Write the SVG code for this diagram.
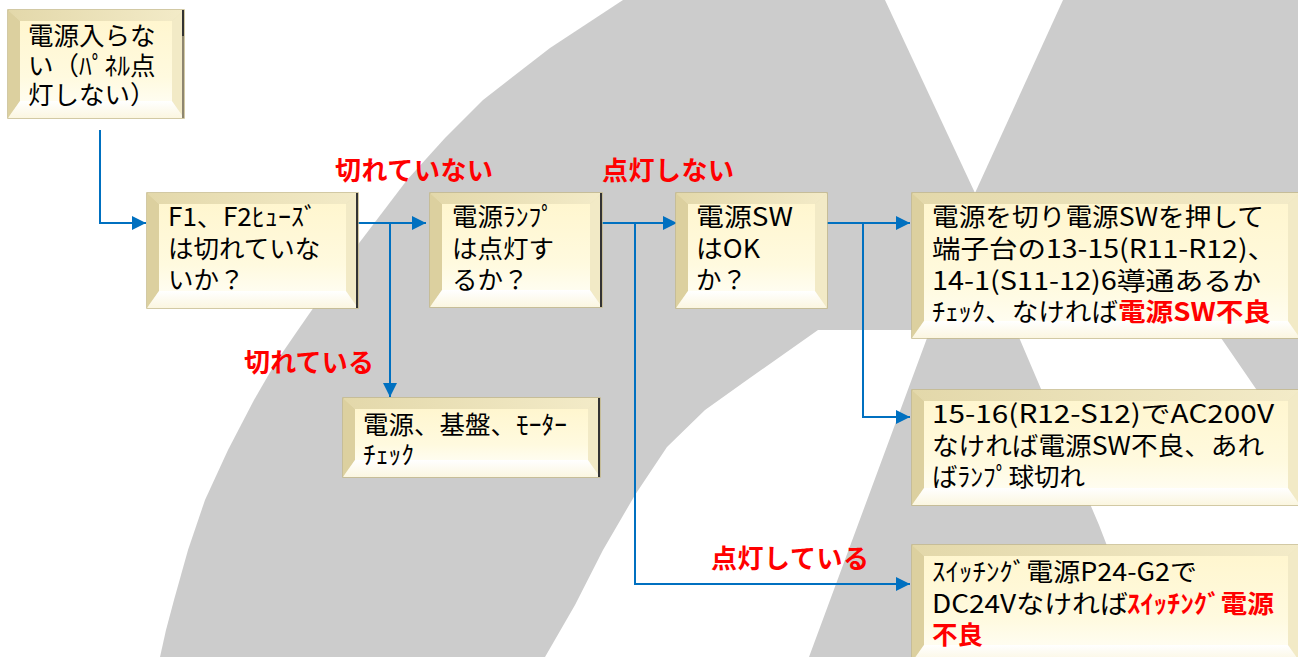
<svg xmlns="http://www.w3.org/2000/svg" width="1298" height="657" viewBox="0 0 1298 657">
<defs>
<linearGradient id="gFace" x1="0" y1="0" x2="0" y2="1">
<stop offset="0" stop-color="#FFF6CF"/><stop offset="0.7" stop-color="#FFFADF"/><stop offset="1" stop-color="#FFFDF0"/>
</linearGradient>
<linearGradient id="gTop" x1="0" y1="0" x2="1" y2="0">
<stop offset="0" stop-color="#E3D8AA"/><stop offset="1" stop-color="#F3EBC8"/>
</linearGradient>
<linearGradient id="gBot" x1="0" y1="0" x2="0" y2="1">
<stop offset="0" stop-color="#FFFFFF"/><stop offset="1" stop-color="#FBF6E0"/>
</linearGradient>
<marker id="arr" viewBox="0 0 14 14" refX="14" refY="7" markerWidth="14" markerHeight="14" markerUnits="userSpaceOnUse" orient="auto">
<path d="M0,0 L14,7 L0,14 z" fill="#0070C0"/>
</marker>
<style>
.ob{fill:#EDE4BE;stroke:#C4B887;stroke-width:1.5}
.bt{fill:url(#gTop)}
.bl{fill:#DCD09F}
.br{fill:#F2EAC6}
.bb{fill:url(#gBot)}
.fc{fill:url(#gFace)}
.sh{stroke:#333333;stroke-width:2}
.t{font-family:"Noto Sans CJK JP","Noto Sans CJK SC",sans-serif;font-size:25.5px;fill:#000}
.r{fill:#FF0000;font-weight:bold}
.lbl{font-family:"Noto Sans CJK JP","Noto Sans CJK SC",sans-serif;font-size:26px;fill:#FF0000;font-weight:bold}
.c{fill:none;stroke:#0070C0;stroke-width:2;marker-end:url(#arr)}
</style>
</defs>
<rect width="1298" height="657" fill="#FFFFFF"/>
<g id="background">
<polygon fill="#CCCCCC" points="160,657 166,630 174,600 188,550 205,500 228,450 254,400 276,362 298,330 350,255 407,180 445,138 483,100 550,48 623,0 1298,0 1298,657"/>
<polygon fill="#FFFFFF" points="885,0 975,193 1063,0"/>
<polygon fill="#FFFFFF" points="545,657 575,605 603,550 635,495 667,447 705,410 747,380 818,330 930,330 809,657"/>
<polygon fill="#FFFFFF" points="1018,335 1219,335 1298,450 1298,657 1150,657 1099,525"/>
</g>
<g id="connectors">
<path class="c" d="M100,130 V223 H146"/>
<path class="c" d="M358,223 H426"/>
<path class="c" d="M390,223 V397"/>
<path class="c" d="M602,223 H677"/>
<path class="c" d="M635,223 V584 H910"/>
<path class="c" d="M827,223 H910"/>
<path class="c" d="M863,223 V417 H910"/>
</g>
<g id="labels">
<text class="lbl" x="335" y="180" textLength="158">切れていない</text>
<text class="lbl" x="602" y="180" textLength="132">点灯しない</text>
<text class="lbl" x="244" y="372" textLength="130">切れている</text>
<text class="lbl" x="711" y="568" textLength="158">点灯している</text>
</g>
<g id="n1">
<rect class="ob" x="8" y="10" width="176" height="108"/>
<polygon class="bt" points="8,10 184,10 172,21 20,21"/>
<polygon class="bl" points="8,10 20,21 20,101 8,118"/>
<polygon class="br" points="184,10 184,118 172,101 172,21"/>
<polygon class="bb" points="8,118 20,101 172,101 184,118"/>
<rect class="fc" x="20" y="21" width="152" height="80"/>
<line class="sh" x1="183" y1="10" x2="183" y2="36"/>
<line x1="183" y1="36" x2="183" y2="118" stroke="#8E8670" stroke-width="2"/>
<text class="t"><tspan x="28" y="45">電源入らな</tspan><tspan x="28" y="74.5">い（ﾊﾟﾈﾙ点</tspan><tspan x="28" y="104">灯しない）</tspan></text>
</g>
<g id="n-fuse">
<rect class="ob" x="147" y="193" width="211" height="115"/>
<polygon class="bt" points="147,193 358,193 346,204 159,204"/>
<polygon class="bl" points="147,193 159,204 159,291 147,308"/>
<polygon class="br" points="358,193 358,308 346,291 346,204"/>
<polygon class="bb" points="147,308 159,291 346,291 358,308"/>
<rect class="fc" x="159" y="204" width="187" height="87"/>
<line class="sh" x1="357" y1="193" x2="357" y2="308"/>
<text class="t"><tspan x="168" y="226" textLength="149" lengthAdjust="spacingAndGlyphs">F1、F2ﾋｭｰｽﾞ</tspan><tspan x="168" y="257.5">は切れていな</tspan><tspan x="168" y="289">いか？</tspan></text>
</g>
<g id="n-lamp">
<rect class="ob" x="430" y="193" width="172" height="114"/>
<polygon class="bt" points="430,193 602,193 590,204 442,204"/>
<polygon class="bl" points="430,193 442,204 442,290 430,307"/>
<polygon class="br" points="602,193 602,307 590,290 590,204"/>
<polygon class="bb" points="430,307 442,290 590,290 602,307"/>
<rect class="fc" x="442" y="204" width="148" height="86"/>
<line class="sh" x1="601" y1="193" x2="601" y2="307"/>
<text class="t"><tspan x="452" y="226">電源ﾗﾝﾌﾟ</tspan><tspan x="452" y="257.5">は点灯す</tspan><tspan x="452" y="289">るか？</tspan></text>
</g>
<g id="n-sw">
<rect class="ob" x="676" y="193" width="151" height="115"/>
<polygon class="bt" points="676,193 827,193 815,204 688,204"/>
<polygon class="bl" points="676,193 688,204 688,291 676,308"/>
<polygon class="br" points="827,193 827,308 815,291 815,204"/>
<polygon class="bb" points="676,308 688,291 815,291 827,308"/>
<rect class="fc" x="688" y="204" width="127" height="87"/>
<text class="t"><tspan x="696" y="226" textLength="97" lengthAdjust="spacingAndGlyphs">電源SW</tspan><tspan x="696" y="257.5" textLength="64" lengthAdjust="spacingAndGlyphs">はOK</tspan><tspan x="696" y="289">か？</tspan></text>
</g>
<g id="n-check-sw">
<rect class="ob" x="912" y="193" width="388" height="145"/>
<polygon class="bt" points="912,193 1300,193 1288,204 924,204"/>
<polygon class="bl" points="912,193 924,204 924,321 912,338"/>
<polygon class="br" points="1300,193 1300,338 1288,321 1288,204"/>
<polygon class="bb" points="912,338 924,321 1288,321 1300,338"/>
<rect class="fc" x="924" y="204" width="364" height="117"/>
<text class="t"><tspan x="932" y="226" textLength="332" lengthAdjust="spacingAndGlyphs">電源を切り電源SWを押して</tspan><tspan x="932" y="258" textLength="344" lengthAdjust="spacingAndGlyphs">端子台の13-15(R11-R12)、</tspan><tspan x="932" y="290" textLength="329" lengthAdjust="spacingAndGlyphs">14-1(S11-12)6導通あるか</tspan><tspan x="932" y="321" textLength="186" lengthAdjust="spacingAndGlyphs">ﾁｪｯｸ、なければ</tspan><tspan class="r" x="1118" y="321" textLength="153" lengthAdjust="spacingAndGlyphs">電源SW不良</tspan></text>
</g>
<g id="n-ac200">
<rect class="ob" x="912" y="390" width="388" height="115"/>
<polygon class="bt" points="912,390 1300,390 1288,401 924,401"/>
<polygon class="bl" points="912,390 924,401 924,488 912,505"/>
<polygon class="br" points="1300,390 1300,505 1288,488 1288,401"/>
<polygon class="bb" points="912,505 924,488 1288,488 1300,505"/>
<rect class="fc" x="924" y="401" width="364" height="87"/>
<text class="t"><tspan x="932" y="423" textLength="342" lengthAdjust="spacingAndGlyphs">15-16(R12-S12)でAC200V</tspan><tspan x="932" y="454.5" textLength="332" lengthAdjust="spacingAndGlyphs">なければ電源SW不良、あれ</tspan><tspan x="932" y="486">ばﾗﾝﾌﾟ球切れ</tspan></text>
</g>
<g id="n-dc24">
<rect class="ob" x="912" y="545" width="388" height="117"/>
<polygon class="bt" points="912,545 1300,545 1288,556 924,556"/>
<polygon class="bl" points="912,545 924,556 924,645 912,662"/>
<polygon class="br" points="1300,545 1300,662 1288,645 1288,556"/>
<polygon class="bb" points="912,662 924,645 1288,645 1300,662"/>
<rect class="fc" x="924" y="556" width="364" height="89"/>
<text class="t"><tspan x="932" y="581" textLength="265" lengthAdjust="spacingAndGlyphs">ｽｲｯﾁﾝｸﾞ電源P24-G2で</tspan><tspan x="932" y="612.5" textLength="196" lengthAdjust="spacingAndGlyphs">DC24Vなければ</tspan><tspan class="r" x="1127" y="612.5" textLength="147" lengthAdjust="spacingAndGlyphs">ｽｲｯﾁﾝｸﾞ電源</tspan><tspan class="r" x="932" y="644">不良</tspan></text>
</g>
<g id="n-board">
<rect class="ob" x="343" y="398" width="257" height="79"/>
<polygon class="bt" points="343,398 600,398 588,409 355,409"/>
<polygon class="bl" points="343,398 355,409 355,460 343,477"/>
<polygon class="br" points="600,398 600,477 588,460 588,409"/>
<polygon class="bb" points="343,477 355,460 588,460 600,477"/>
<rect class="fc" x="355" y="409" width="233" height="51"/>
<line class="sh" x1="599" y1="398" x2="599" y2="477"/>
<text class="t"><tspan x="363" y="434">電源、基盤、ﾓｰﾀｰ</tspan><tspan x="363" y="464">ﾁｪｯｸ</tspan></text>
</g>
</svg>
